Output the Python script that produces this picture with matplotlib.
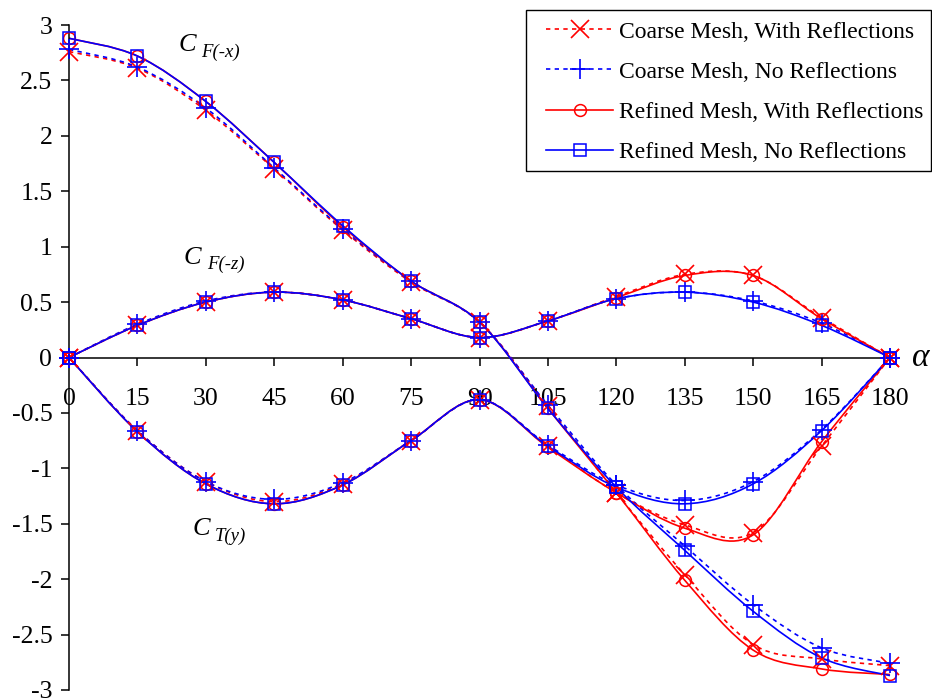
import numpy as np
import matplotlib
matplotlib.use("Agg")
import matplotlib.pyplot as plt
from matplotlib.path import Path
from matplotlib.patches import PathPatch, Rectangle
from matplotlib.lines import Line2D

plt.rcParams["font.family"] = ["Liberation Serif", "DejaVu Serif"]
plt.rcParams["axes.unicode_minus"] = False

# ---- data -------------------------------------------------------------
angles = [0, 15, 30, 45, 60, 75, 90, 105, 120, 135, 150, 165, 180]

# C_F(-x)
cfx_coarse_refl = [2.76, 2.61, 2.23, 1.70, 1.15, 0.68, 0.32, -0.44, -1.22, -1.96, -2.59, -2.72, -2.78]
cfx_coarse_noref = [2.78, 2.62, 2.25, 1.71, 1.16, 0.69, 0.32, -0.43, -1.15, -1.70, -2.23, -2.62, -2.76]
cfx_fine_refl = [2.88, 2.72, 2.31, 1.76, 1.18, 0.69, 0.32, -0.46, -1.22, -2.01, -2.64, -2.81, -2.86]
cfx_fine_noref = [2.88, 2.72, 2.31, 1.76, 1.19, 0.69, 0.32, -0.46, -1.17, -1.74, -2.29, -2.71, -2.87]

# C_F(-z)
cfz_coarse_refl = [0.0, 0.29, 0.50, 0.59, 0.52, 0.35, 0.18, 0.33, 0.55, 0.75, 0.74, 0.36, 0.0]
cfz_coarse_noref = [0.0, 0.30, 0.51, 0.59, 0.52, 0.35, 0.18, 0.33, 0.53, 0.59, 0.51, 0.31, 0.0]
cfz_fine_refl = [0.0, 0.29, 0.50, 0.59, 0.52, 0.35, 0.18, 0.33, 0.54, 0.74, 0.74, 0.35, 0.0]
cfz_fine_noref = [0.0, 0.29, 0.50, 0.59, 0.52, 0.35, 0.18, 0.33, 0.53, 0.59, 0.50, 0.29, 0.0]

# C_T(y)
cty_coarse_refl = [0.0, -0.66, -1.12, -1.30, -1.14, -0.75, -0.38, -0.80, -1.22, -1.51, -1.58, -0.80, 0.0]
cty_coarse_noref = [0.0, -0.66, -1.12, -1.28, -1.13, -0.75, -0.38, -0.79, -1.15, -1.29, -1.12, -0.65, 0.0]
cty_fine_refl = [0.0, -0.67, -1.14, -1.32, -1.15, -0.75, -0.38, -0.81, -1.22, -1.54, -1.60, -0.76, 0.0]
cty_fine_noref = [0.0, -0.67, -1.14, -1.32, -1.15, -0.75, -0.38, -0.80, -1.17, -1.32, -1.14, -0.66, 0.0]

series_labels = [
    "Coarse Mesh, With Reflections",
    "Coarse Mesh, No Reflections",
    "Refined Mesh, With Reflections",
    "Refined Mesh, No Reflections",
]

x_ticks = [0, 15, 30, 45, 60, 75, 90, 105, 120, 135, 150, 165, 180]
x_tick_labels = ["0", "15", "30", "45", "60", "75", "90", "105", "120", "135", "150", "165", "180"]
y_ticks = [3, 2.5, 2, 1.5, 1, 0.5, 0, -0.5, -1, -1.5, -2, -2.5, -3]
y_tick_labels = ["3", "2.5", "2", "1.5", "1", "0.5", "0", "-0.5", "-1", "-1.5", "-2", "-2.5", "-3"]

# ---- styles -----------------------------------------------------------
RED = "#FF0000"
BLUE = "#0000FF"
dash = (0, (2.6, 2.6))
styles = [
    dict(color=RED, ls=dash, marker="x", ms=13, mew=1.2),
    dict(color=BLUE, ls=dash, marker="+", ms=15, mew=1.2),
    dict(color=RED, ls="-", marker="o", ms=8.5, mew=1.1),
    dict(color=BLUE, ls="-", marker="s", ms=8.5, mew=1.1),
]
LW = 1.2

groups = [
    [cfx_coarse_refl, cfx_coarse_noref, cfx_fine_refl, cfx_fine_noref],
    [cfz_coarse_refl, cfz_coarse_noref, cfz_fine_refl, cfz_fine_noref],
    [cty_coarse_refl, cty_coarse_noref, cty_fine_refl, cty_fine_noref],
]


def smooth_path(xs, ys):
    """Cubic Bezier path through the points (Catmull-Rom tangents)."""
    p = np.column_stack([xs, ys]).astype(float)
    n = len(p)
    verts = [p[0]]
    codes = [Path.MOVETO]
    for i in range(n - 1):
        p0 = p[i - 1] if i > 0 else p[i]
        p1 = p[i]
        p2 = p[i + 1]
        p3 = p[i + 2] if i + 2 < n else p[i + 1]
        c1 = p1 + (p2 - p0) / 6.0
        c2 = p2 - (p3 - p1) / 6.0
        verts += [c1, c2, p2]
        codes += [Path.CURVE4] * 3
    return Path(verts, codes)


W, H = 932, 699
fig = plt.figure(figsize=(W / 100, H / 100), dpi=100)
ax = fig.add_axes([69 / W, 9 / H, (890 - 69) / W, (690 - 25) / H])
ax.set_xlim(0, 180)
ax.set_ylim(-3, 3)

for gi, group in enumerate(groups):
    for si, vals in enumerate(group):
        st = styles[si]
        patch = PathPatch(smooth_path(angles, vals), fill=False,
                          edgecolor=st["color"], linestyle=st["ls"],
                          linewidth=LW, zorder=2 + si * 0.1, clip_on=False,
                          capstyle="butt")
        ax.add_patch(patch)

for si in range(4):
    st = styles[si]
    for group in groups:
        ax.plot(angles, group[si], linestyle="none", marker=st["marker"],
                ms=st["ms"], mew=st["mew"], mec=st["color"], mfc="none",
                zorder=4 + si * 0.1, clip_on=False)

# axes styling
for side in ("top", "right"):
    ax.spines[side].set_visible(False)
ax.spines["bottom"].set_position(("data", 0))
ax.spines["bottom"].set_linewidth(1.1)
ax.spines["left"].set_linewidth(1.1)
ax.spines["bottom"].set_zorder(1)

ax.set_xticks(x_ticks)
ax.set_xticklabels(x_tick_labels)
ax.set_yticks(y_ticks)
ax.set_yticklabels(y_tick_labels)
ax.tick_params(axis="x", direction="out", length=6, width=1.1, pad=16, labelsize=18.5)
ax.tick_params(axis="y", direction="out", length=6, width=1.1, pad=6, labelsize=18.5)

# curve annotations
ax.text(24.0, 2.82, "C", fontsize=19, style="italic", va="center", ha="left")
ax.text(28.9, 2.75, "F(-x)", fontsize=13.5, style="italic", va="center", ha="left")
ax.text(25.1, 0.90, "C", fontsize=19, style="italic", va="center", ha="left")
ax.text(30.3, 0.84, "F(-z)", fontsize=13.5, style="italic", va="center", ha="left")
ax.text(27.1, -1.55, "C", fontsize=19, style="italic", va="center", ha="left")
ax.text(32.0, -1.61, "T(y)", fontsize=13.5, style="italic", va="center", ha="left")
ax.text(184.8, 0.0, "\u03b1", fontsize=24, style="italic", va="center", ha="left",
        clip_on=False)

# legend: entries without frame, box drawn separately
handles = [
    Line2D([], [], color=st["color"], linestyle=st["ls"], linewidth=LW,
           marker=st["marker"], ms=st["ms"], mew=st["mew"], mfc="none")
    for st in styles
]
leg = fig.legend(handles, series_labels, loc="upper left",
                 bbox_to_anchor=(546 / W, 1 - 21 / H),
                 bbox_transform=fig.transFigure, frameon=False,
                 fontsize=17, handlelength=2.85, handletextpad=0.25,
                 labelspacing=0.79, borderpad=0.0, borderaxespad=0)
fig.add_artist(Rectangle((526 / W, 1 - 171 / H), (931 - 526) / W, (171 - 10) / H,
                         transform=fig.transFigure, fill=False,
                         edgecolor="black", linewidth=1.0, zorder=10))

fig.savefig("out.png", dpi=100)
